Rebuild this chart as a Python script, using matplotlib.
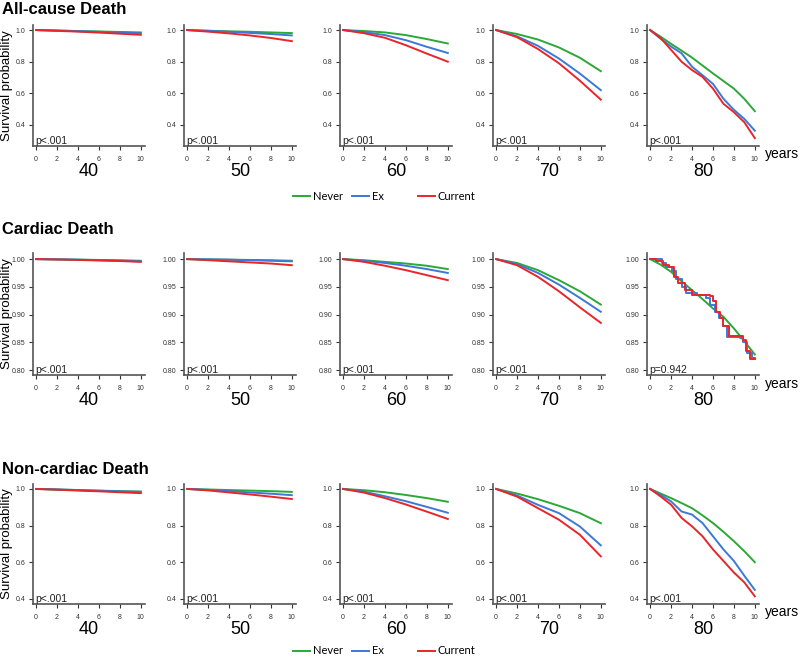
#!/usr/bin/env python3
"""Survival curves by smoking status for 3 death types and 5 age groups."""
import numpy as np
import matplotlib
matplotlib.use("Agg")
import matplotlib.pyplot as plt
from matplotlib.lines import Line2D

plt.rcParams["font.family"] = ["Liberation Sans", "DejaVu Sans"]

ROW_TITLES = ["All-cause Death", "Cardiac Death", "Non-cardiac Death"]
AGES = ["40", "50", "60", "70", "80"]
SERIES = ["Never", "Ex", "Current"]
COLORS = {"Never": "#2BA836", "Ex": "#3C78D8", "Current": "#E8262A"}
P_VALUES = [
    ["p<.001"] * 5,
    ["p<.001", "p<.001", "p<.001", "p<.001", "p=0.942"],
    ["p<.001"] * 5,
]
Y_TICKS = [
    [0.4, 0.6, 0.8, 1.0],
    [0.80, 0.85, 0.90, 0.95, 1.00],
    [0.4, 0.6, 0.8, 1.0],
]
Y_TICK_LABELS = [
    ["0.4", "0.6", "0.8", "1.0"],
    ["0.80", "0.85", "0.90", "0.95", "1.00"],
    ["0.4", "0.6", "0.8", "1.0"],
]
Y_LIMS = [(0.267, 1.032), (0.791, 1.011), (0.372, 1.027)]

years = [0, 2, 4, 6, 8, 10]
years_fine = [0, 1, 2, 3, 4, 5, 6, 7, 8, 9, 10]

# ---- All-cause death (values read at the `years` grid, 80 at yearly grid)
all_40 = {"Never": [1.0, 0.997, 0.994, 0.991, 0.988, 0.985],
          "Ex": [1.0, 0.997, 0.993, 0.989, 0.985, 0.980],
          "Current": [1.0, 0.995, 0.990, 0.984, 0.977, 0.970]}
all_50 = {"Never": [1.0, 0.996, 0.992, 0.989, 0.985, 0.981],
          "Ex": [1.0, 0.995, 0.989, 0.982, 0.975, 0.966],
          "Current": [1.0, 0.990, 0.979, 0.966, 0.950, 0.930]}
all_60 = {"Never": [1.0, 0.994, 0.985, 0.968, 0.943, 0.915],
          "Ex": [1.0, 0.987, 0.968, 0.936, 0.894, 0.855],
          "Current": [1.0, 0.980, 0.951, 0.904, 0.851, 0.800]}
all_70 = {"Never": [1.0, 0.975, 0.940, 0.890, 0.825, 0.740],
          "Ex": [1.0, 0.960, 0.900, 0.820, 0.725, 0.620],
          "Current": [1.0, 0.955, 0.880, 0.790, 0.680, 0.560]}
all_80 = {"Never": [1.0, 0.958, 0.913, 0.870, 0.826, 0.776, 0.726, 0.678, 0.630, 0.565, 0.487],
          "Ex": [1.0, 0.945, 0.896, 0.853, 0.768, 0.715, 0.660, 0.566, 0.496, 0.438, 0.364],
          "Current": [1.0, 0.950, 0.875, 0.800, 0.747, 0.704, 0.630, 0.534, 0.481, 0.417, 0.317]}

# ---- Cardiac death
card_40 = {"Never": [1.0, 0.9995, 0.999, 0.9985, 0.998, 0.997],
           "Ex": [1.0, 0.9995, 0.999, 0.998, 0.997, 0.996],
           "Current": [1.0, 0.9993, 0.9985, 0.9975, 0.9965, 0.995]}
card_50 = {"Never": [1.0, 0.9995, 0.999, 0.9985, 0.998, 0.997],
           "Ex": [1.0, 0.9995, 0.999, 0.998, 0.997, 0.996],
           "Current": [1.0, 0.998, 0.996, 0.994, 0.992, 0.989]}
card_60 = {"Never": [1.0, 0.998, 0.995, 0.992, 0.988, 0.982],
           "Ex": [1.0, 0.997, 0.993, 0.988, 0.982, 0.975],
           "Current": [1.0, 0.995, 0.988, 0.980, 0.971, 0.962]}
card_70 = {"Never": [1.0, 0.993, 0.980, 0.962, 0.942, 0.918],
           "Ex": [1.0, 0.991, 0.975, 0.954, 0.930, 0.905],
           "Current": [1.0, 0.989, 0.968, 0.942, 0.913, 0.885]}
card_80_never_x = [0, 1, 2, 3, 4, 5, 6, 7, 8, 9, 10]
card_80_never = [1.0, 0.990, 0.977, 0.960, 0.944, 0.928, 0.911, 0.896, 0.875, 0.852, 0.828]
card_80_ex_x = [0, 1.1, 1.5, 2.1, 2.5, 3.0, 3.4, 4.5, 5.3, 5.7, 6.2, 6.6, 7.0, 7.3, 8.6, 8.9, 9.3, 9.7, 10]
card_80_ex = [1.0, 0.993, 0.985, 0.978, 0.965, 0.950, 0.938, 0.936, 0.930, 0.918, 0.905, 0.893,
              0.880, 0.860, 0.858, 0.850, 0.830, 0.822, 0.822]
card_80_cur_x = [0, 0.6, 1.2, 1.8, 2.3, 2.7, 3.3, 4.0, 5.7, 6.0, 6.3, 6.7, 7.0, 7.5, 8.5, 8.9, 9.2, 9.5, 10]
card_80_cur = [1.0, 0.996, 0.990, 0.985, 0.968, 0.957, 0.945, 0.935, 0.934, 0.925, 0.905, 0.893,
               0.880, 0.862, 0.862, 0.855, 0.835, 0.820, 0.820]

# ---- Non-cardiac death
nonc_40 = {"Never": [1.0, 0.997, 0.994, 0.991, 0.988, 0.986],
           "Ex": [1.0, 0.997, 0.994, 0.990, 0.987, 0.984],
           "Current": [1.0, 0.996, 0.991, 0.987, 0.982, 0.977]}
nonc_50 = {"Never": [1.0, 0.997, 0.994, 0.991, 0.988, 0.984],
           "Ex": [1.0, 0.995, 0.988, 0.981, 0.974, 0.966],
           "Current": [1.0, 0.992, 0.981, 0.970, 0.958, 0.945]}
nonc_60 = {"Never": [1.0, 0.993, 0.982, 0.967, 0.950, 0.930],
           "Ex": [1.0, 0.985, 0.960, 0.933, 0.902, 0.870],
           "Current": [1.0, 0.980, 0.950, 0.915, 0.876, 0.836]}
nonc_70 = {"Never": [1.0, 0.975, 0.944, 0.908, 0.868, 0.813],
           "Ex": [1.0, 0.964, 0.913, 0.868, 0.795, 0.692],
           "Current": [1.0, 0.958, 0.895, 0.832, 0.750, 0.632]}
nonc_80 = {"Never": [1.0, 0.975, 0.950, 0.923, 0.895, 0.856, 0.814, 0.766, 0.715, 0.660, 0.600],
           "Ex": [1.0, 0.968, 0.932, 0.877, 0.860, 0.814, 0.742, 0.670, 0.607, 0.526, 0.449],
           "Current": [1.0, 0.959, 0.914, 0.842, 0.796, 0.742, 0.670, 0.607, 0.544, 0.490, 0.414]}


def panel_data(row, col):
    """Return {series: (x, y, steps)} for one panel."""
    if row == 1 and col == 4:
        return {"Never": (card_80_never_x, card_80_never, False),
                "Ex": (card_80_ex_x, card_80_ex, True),
                "Current": (card_80_cur_x, card_80_cur, True)}
    table = [
        [all_40, all_50, all_60, all_70, all_80],
        [card_40, card_50, card_60, card_70, None],
        [nonc_40, nonc_50, nonc_60, nonc_70, nonc_80],
    ]
    d = table[row][col]
    x = years_fine if col == 4 else years
    return {s: (x, d[s], False) for s in SERIES}


W, H = 800, 661
fig = plt.figure(figsize=(W / 100, H / 100), dpi=100)

lefts = [33, 184, 340, 493, 647]
panel_w = 112
rows_px = [(25, 146), (253, 375), (484, 604)]
title_y = [9, 229, 470]
legend_y = [196, None, 651]
spine_col = "#555555"

for r in range(3):
    top, bot = rows_px[r]
    fig.text(2 / W, 1 - title_y[r] / H, ROW_TITLES[r], fontsize=12,
             fontweight="bold", ha="left", va="center")
    # shared y label for the row
    fig.text(7 / W, 1 - (top + bot) / 2 / H, "Survival probability",
             fontsize=9.5, rotation=90, ha="center", va="center")
    for c in range(5):
        ax = fig.add_axes([lefts[c] / W, 1 - bot / H, panel_w / W, (bot - top) / H])
        for s, (x, y, steps) in panel_data(r, c).items():
            ax.plot(x, y, color=COLORS[s], lw=1.4, label=s,
                    drawstyle="steps-post" if steps else "default")
        ax.set_xlim(-0.3, 10.4)
        ax.set_ylim(*Y_LIMS[r])
        ax.set_xticks([0, 2, 4, 6, 8, 10])
        ax.set_yticks(Y_TICKS[r])
        ax.set_yticklabels(Y_TICK_LABELS[r])
        for side in ["top", "right"]:
            ax.spines[side].set_visible(False)
        for side in ["left", "bottom"]:
            ax.spines[side].set_color(spine_col)
            ax.spines[side].set_linewidth(1.2)
        ax.tick_params(labelsize=5, colors="#333333", length=3, width=0.8,
                       pad=2.5)
        ax.tick_params(axis="x", pad=4)
        ax.text(0.02, 0.0, P_VALUES[r][c], transform=ax.transAxes,
                fontsize=7.5, ha="left", va="bottom", color="#222222")
        ax.set_xlabel(AGES[c], fontsize=13, labelpad=0)
        if c == 4:
            ax.text(118 / panel_w, -0.07, "years", transform=ax.transAxes,
                    fontsize=10, ha="left", va="center")

    if legend_y[r] is not None:
        ly = 1 - legend_y[r] / H
        for s, x0 in zip(SERIES, [293, 352, 418]):
            fig.add_artist(Line2D([x0 / W, (x0 + 17) / W], [ly, ly],
                                  color=COLORS[s], lw=1.4))
            fig.text((x0 + 20) / W, ly, s, fontsize=8, ha="left", va="center",
                     family=["Lato", "DejaVu Sans"])

fig.savefig("out.png", dpi=100)
